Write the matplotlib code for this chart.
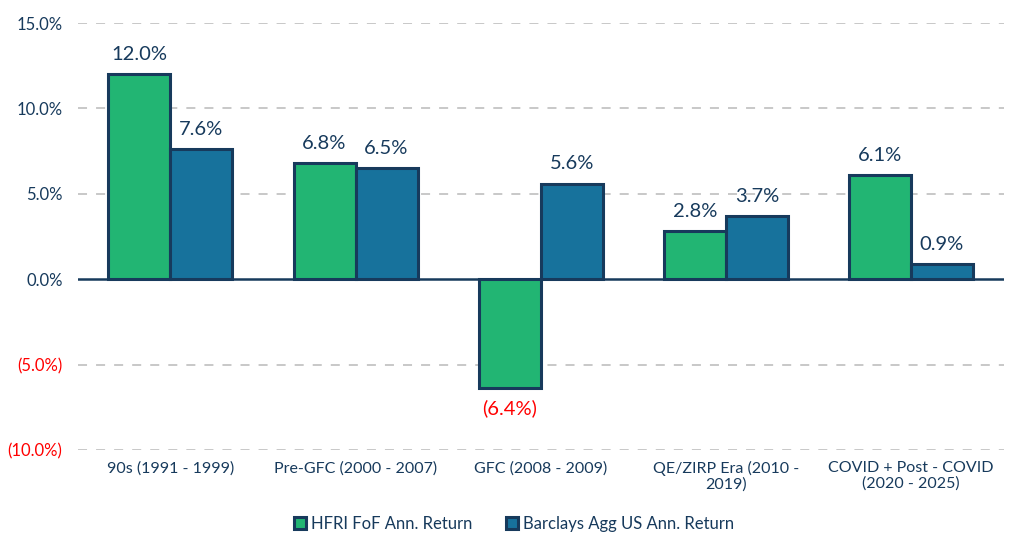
import matplotlib.pyplot as plt
import numpy as np

plt.rcParams['font.family'] = ['Lato', 'DejaVu Sans']

# Data
categories = ['90s (1991 - 1999)', 'Pre-GFC (2000 - 2007)', 'GFC (2008 - 2009)',
              'QE/ZIRP Era (2010 -\n2019)', 'COVID + Post - COVID\n(2020 - 2025)']
hfri = [12.0, 6.8, -6.4, 2.8, 6.1]
barclays = [7.6, 6.5, 5.6, 3.7, 0.9]
series_names = ['HFRI FoF Ann. Return', 'Barclays Agg US Ann. Return']
yticks = [-10, -5, 0, 5, 10, 15]

navy = '#173a5c'
green = '#22b573'
blue = '#17729c'
red = '#ff0000'

def fmt(v):
    return f'({abs(v):.1f}%)' if v < 0 else f'{v:.1f}%'

fig = plt.figure(figsize=(10.24, 5.5), dpi=100)
ax = fig.add_axes([0.076, 0.182, 0.904, 0.776])

x = np.arange(len(categories))
w = 0.335
b1 = ax.bar(x - w / 2, hfri, w, color=green, edgecolor=navy, linewidth=2.2,
            label=series_names[0], zorder=3)
b2 = ax.bar(x + w / 2, barclays, w, color=blue, edgecolor=navy, linewidth=2.2,
            label=series_names[1], zorder=3)

for bars, vals in ((b1, hfri), (b2, barclays)):
    for bar, v in zip(bars, vals):
        cx = bar.get_x() + bar.get_width() / 2
        if v >= 0:
            ax.annotate(fmt(v), (cx, v), xytext=(0, 8), textcoords='offset points',
                        ha='center', va='bottom', fontsize=14.5, color=navy)
        else:
            ax.annotate(fmt(v), (cx, v), xytext=(0, -8), textcoords='offset points',
                        ha='center', va='top', fontsize=14.5, color=red)

ax.set_xlim(-0.5, 4.5)
ax.set_ylim(-10, 15)
ax.set_yticks(yticks)
ax.set_yticklabels([fmt(t) for t in yticks], fontsize=12)
for lbl, t in zip(ax.get_yticklabels(), yticks):
    lbl.set_color(red if t < 0 else navy)
ax.set_xticks(x)
ax.set_xticklabels(categories, fontsize=11.5, color=navy, linespacing=1.1)
ax.tick_params(axis='both', length=0)
ax.tick_params(axis='x', pad=8)
ax.tick_params(axis='y', pad=11)

for t in yticks:
    if t != 0:
        ax.axhline(t, color='#c4c4c4', linestyle=(0, (5, 5)), linewidth=1.3, zorder=1)
ax.axhline(0, color=navy, linewidth=1.8, zorder=4)

for s in ax.spines.values():
    s.set_visible(False)

leg = fig.legend(handles=[b1, b2], loc='center', bbox_to_anchor=(0.502, 0.048), ncol=2,
                 frameon=False, fontsize=12, handlelength=0.7, handleheight=0.7,
                 handletextpad=0.3, columnspacing=2.0)
for txt in leg.get_texts():
    txt.set_color(navy)

fig.savefig('out.png', dpi=100)
